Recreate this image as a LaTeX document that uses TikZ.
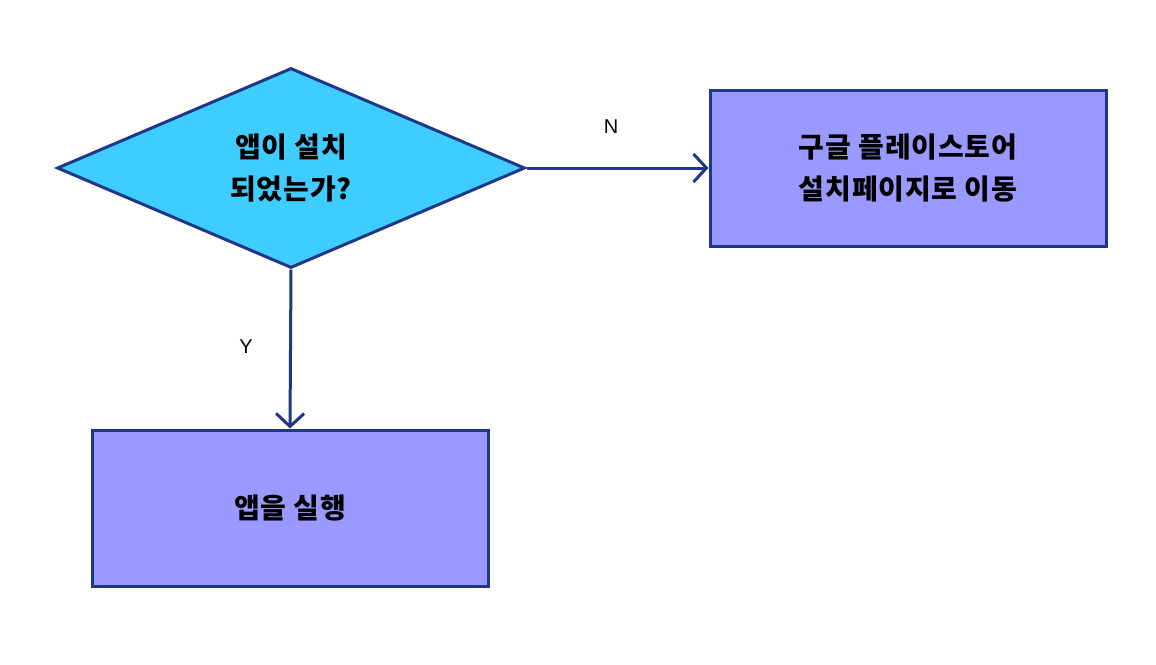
\documentclass[tikz,border=0pt]{standalone}
\usepackage{fontspec}
\newfontfamily\kr{Noto Sans CJK KR}[LetterSpace=3]
\newfontfamily\lat{Liberation Sans}
\usetikzlibrary{shapes.geometric,arrows.meta}
\definecolor{edge}{HTML}{1F3885}
\definecolor{cyanfill}{HTML}{3FCDFF}
\definecolor{boxfill}{HTML}{9999FF}
\begin{document}
\begin{tikzpicture}[x=1pt,y=-1pt,
  stepbox/.style={draw=edge,line width=3pt,fill=boxfill,minimum width=396pt,minimum height=156pt,inner sep=0pt,align=center,font=\kr\bfseries\fontsize{28}{42}\selectfont},
  decision/.style={draw=edge,line width=3pt,fill=cyanfill,diamond,inner sep=0pt,minimum width=468pt,minimum height=200pt,align=center,font=\kr\bfseries\fontsize{28}{42}\selectfont},
  conn/.style={draw=edge,line width=3pt,-{Straight Barb[length=13pt,width=28pt,line width=3pt]}},
  lbl/.style={font=\lat\fontsize{20}{24}\selectfont,text=black}]
\useasboundingbox (0,0) rectangle (1156,664);
\fill[white] (0,0) rectangle (1156,664);
\node[decision] (d) at (291,168) {앱이 설치\\되었는가?};
\node[stepbox] (r) at (908,168) {구글 플레이스토어\\설치페이지로 이동};
\node[stepbox] (b) at (290,508) {앱을 실행};
\draw[conn] (d.east) -- (r.west);
\draw[conn] (d.south) -- (b.north);
\node[lbl] (n) at (611,127) {N};
\node[lbl] (y) at (246,347) {Y};
\end{tikzpicture}
\end{document}
